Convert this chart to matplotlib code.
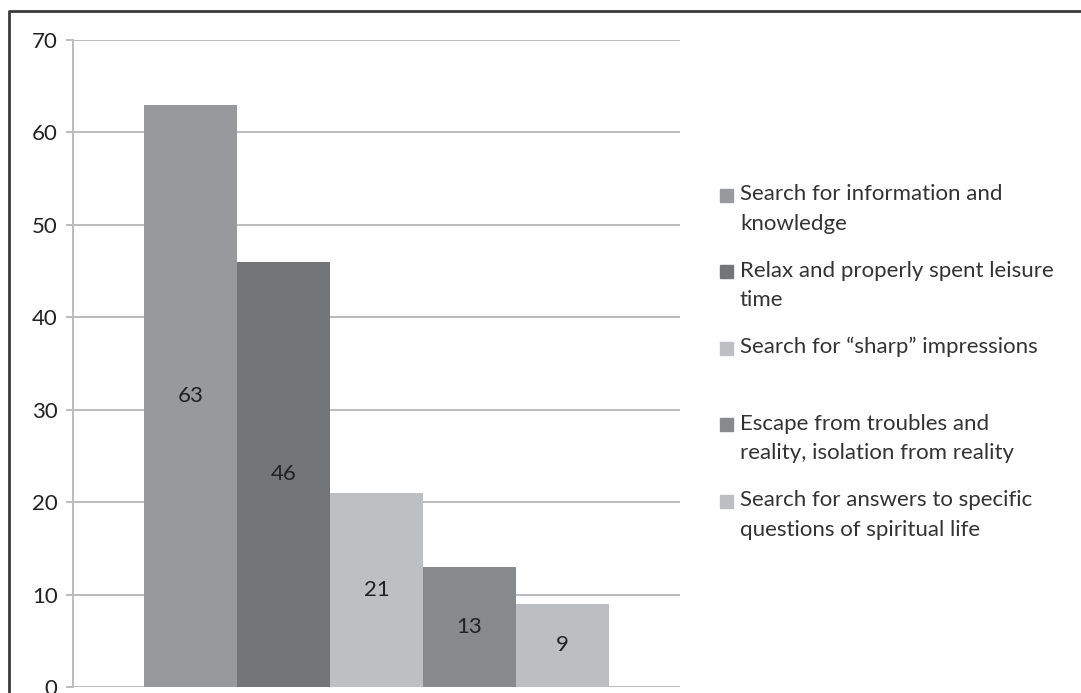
import matplotlib
matplotlib.use("Agg")
import matplotlib.pyplot as plt
from matplotlib.patches import Rectangle
from matplotlib.lines import Line2D

# Motives, share of respondents
motives = [
    "Search for information and\nknowledge",
    "Relax and properly spent leisure\ntime",
    "Search for \u201csharp\u201d impressions\n",
    "Escape from troubles and\nreality, isolation from reality",
    "Search for answers to specific\nquestions of spiritual life",
]
values = [63, 46, 21, 13, 9]
bar_colors = ["#98999d", "#747579", "#bebfc3", "#88898d", "#bdbec2"]
y_ticks = [0, 10, 20, 30, 40, 50, 60, 70]

plt.rcParams["font.family"] = ["Lato", "DejaVu Sans"]

W, H = 1081, 693
fig = plt.figure(figsize=(W / 100, H / 100), dpi=100)
ax = fig.add_axes([73 / W, 1 - 687 / H, (680 - 73) / W, (687 - 40) / H])

x = range(len(values))
bars = ax.bar(x, values, width=1.0, color=bar_colors, zorder=2)
for b, v in zip(bars, values):
    ax.text(b.get_x() + b.get_width() / 2, v / 2, str(v), ha="center",
            va="center", fontsize=16, color="#222222", zorder=3)

half = 0.5 + 0.763
ax.set_xlim(-half, len(values) - 1 + half)
ax.set_ylim(0, 70)
ax.set_yticks(y_ticks)
ax.set_xticks([])
ax.yaxis.grid(True, color="#bcbcbc", linewidth=1.4, zorder=0)
for side in ("top", "right", "bottom"):
    ax.spines[side].set_visible(False)
ax.spines["left"].set_color("#bcbcbc")
ax.spines["left"].set_linewidth(1.4)
ax.tick_params(axis="y", length=5, width=1.4, color="#bcbcbc", pad=6,
               labelsize=16, labelcolor="#222222")

# legend drawn by hand so each entry sits on its own line grid
line_h = 30.5
gap = 15.5
y = 195
for label, c in zip(motives, bar_colors):
    fig.patches.append(Rectangle((720 / W, 1 - (y + 6.5) / H), 13 / W, 13 / H,
                                 transform=fig.transFigure, color=c))
    fig.text(740 / W, 1 - (y - 11) / H, label, ha="left", va="top",
             fontsize=16, color="#333333", linespacing=1.6)
    y += line_h * (label.count("\n") + 1) + gap

# frame line around the chart area
fig.add_artist(Line2D([9 / W, 9 / W, 1], [0, 1 - 11 / H, 1 - 11 / H],
                      transform=fig.transFigure, color="#3a3a3a", linewidth=2))

fig.savefig("out.png", dpi=100)
